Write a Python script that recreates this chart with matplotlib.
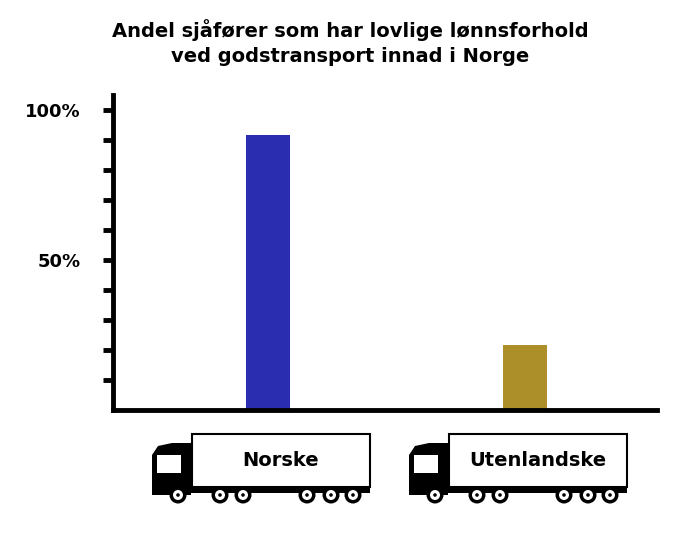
import matplotlib.pyplot as plt
from matplotlib.patches import Rectangle, Circle, Polygon

categories = ["Norske", "Utenlandske"]
values = [91.7, 21.7]
colors = ["#2a2db0", "#ad8f2a"]
yticks = list(range(0, 101, 10))
ylabels = {50: "50%", 100: "100%"}

W, H = 700, 533
fig = plt.figure(figsize=(7, 5.33), dpi=100)
ax = fig.add_axes([113 / W, 1 - 410 / H, 544 / W, 315 / H])
ax.bar([0, 1], values, width=0.17, color=colors)
ax.set_xlim(-0.603, 1.514)
ax.set_ylim(0, 105)
for s in ["top", "right"]:
    ax.spines[s].set_visible(False)
for s in ["left", "bottom"]:
    ax.spines[s].set_linewidth(3.5)
ax.set_xticks([])
ax.set_yticks(yticks[1:])
ax.set_yticklabels([ylabels.get(t, "") for t in yticks[1:]],
                   fontsize=13, fontweight="bold")
ax.tick_params(axis="y", length=7, width=3.5, pad=16)

fig.text(0.5, 1 - 43 / H, "Andel sjåfører som har lovlige lønnsforhold\nved godstransport innad i Norge",
         ha="center", va="center", fontsize=14, fontweight="bold", linespacing=1.4)

# truck icons in pixel coordinates
ov = fig.add_axes([0, 0, 1, 1])
ov.set_xlim(0, W)
ov.set_ylim(H, 0)
ov.axis("off")


def truck(x0, label):
    ov.add_patch(Rectangle((x0 + 40, 434), 178, 53, fc="white", ec="black", lw=1.5))
    ov.add_patch(Polygon([(x0, 495), (x0, 455), (x0 + 6, 446), (x0 + 20, 443),
                          (x0 + 39, 443), (x0 + 39, 495)], fc="black"))
    ov.add_patch(Rectangle((x0 + 5, 455), 24, 18, fc="white"))
    ov.add_patch(Rectangle((x0, 487), 218, 6, fc="black"))
    for dx in [26, 68, 91, 155, 179, 201]:
        ov.add_patch(Circle((x0 + dx, 495), 8.5, fc="black"))
        ov.add_patch(Circle((x0 + dx, 495), 5, fc="white"))
        ov.add_patch(Circle((x0 + dx, 495), 1.8, fc="black"))
    ov.text(x0 + 129, 461, label, ha="center", va="center", fontsize=14, fontweight="bold")


truck(152, categories[0])
truck(409, categories[1])

fig.savefig("out.png", dpi=100)
